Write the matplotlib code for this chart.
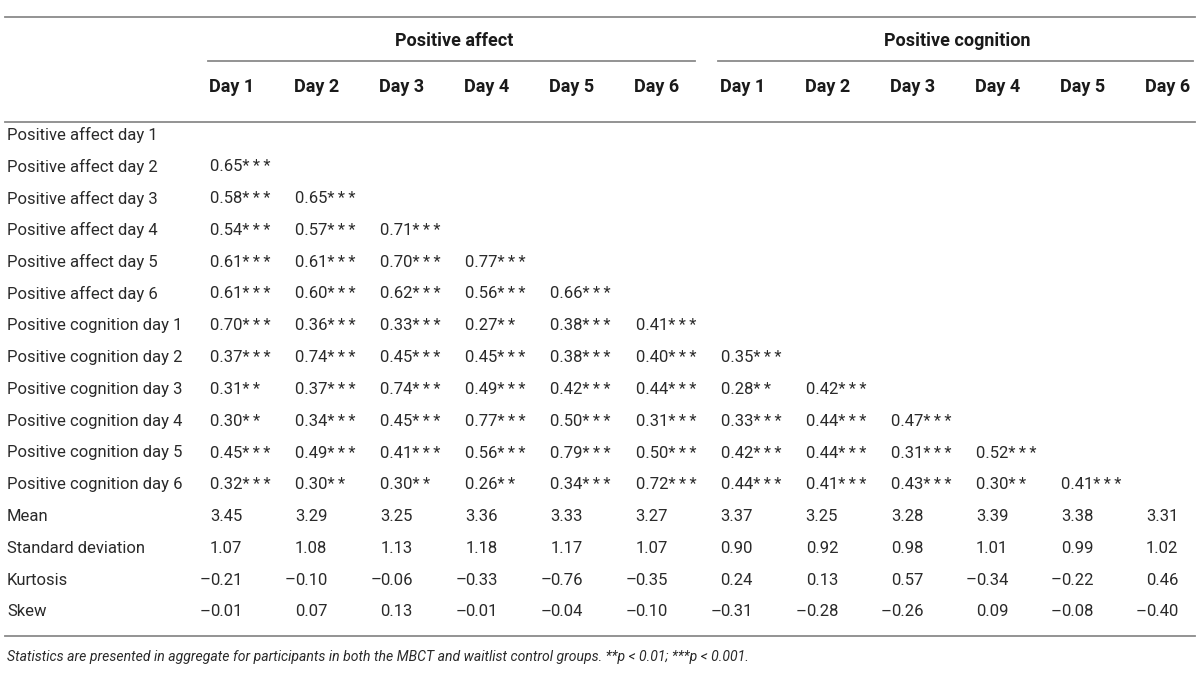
import matplotlib.pyplot as plt

# correlation table: positive affect / positive cognition across six days

row_labels = ["Positive affect day 1", "Positive affect day 2", "Positive affect day 3",
              "Positive affect day 4", "Positive affect day 5", "Positive affect day 6",
              "Positive cognition day 1", "Positive cognition day 2", "Positive cognition day 3",
              "Positive cognition day 4", "Positive cognition day 5", "Positive cognition day 6"]

groups = ["Positive affect", "Positive cognition"]
days = ["Day 1", "Day 2", "Day 3", "Day 4", "Day 5", "Day 6"]

corr = [
    [],
    [0.65],
    [0.58, 0.65],
    [0.54, 0.57, 0.71],
    [0.61, 0.61, 0.70, 0.77],
    [0.61, 0.60, 0.62, 0.56, 0.66],
    [0.70, 0.36, 0.33, 0.27, 0.38, 0.41],
    [0.37, 0.74, 0.45, 0.45, 0.38, 0.40, 0.35],
    [0.31, 0.37, 0.74, 0.49, 0.42, 0.44, 0.28, 0.42],
    [0.30, 0.34, 0.45, 0.77, 0.50, 0.31, 0.33, 0.44, 0.47],
    [0.45, 0.49, 0.41, 0.56, 0.79, 0.50, 0.42, 0.44, 0.31, 0.52],
    [0.32, 0.30, 0.30, 0.26, 0.34, 0.72, 0.44, 0.41, 0.43, 0.30, 0.41],
]

# number of asterisks for each correlation (2 -> p<0.01, 3 -> p<0.001)
stars = [
    [],
    [3],
    [3, 3],
    [3, 3, 3],
    [3, 3, 3, 3],
    [3, 3, 3, 3, 3],
    [3, 3, 3, 2, 3, 3],
    [3, 3, 3, 3, 3, 3, 3],
    [2, 3, 3, 3, 3, 3, 2, 3],
    [2, 3, 3, 3, 3, 3, 3, 3, 3],
    [3, 3, 3, 3, 3, 3, 3, 3, 3, 3],
    [3, 2, 2, 2, 3, 3, 3, 3, 3, 2, 3],
]

stat_labels = ["Mean", "Standard deviation", "Kurtosis", "Skew"]
means = [3.45, 3.29, 3.25, 3.36, 3.33, 3.27, 3.37, 3.25, 3.28, 3.39, 3.38, 3.31]
sds = [1.07, 1.08, 1.13, 1.18, 1.17, 1.07, 0.90, 0.92, 0.98, 1.01, 0.99, 1.02]
kurtosis = [-0.21, -0.10, -0.06, -0.33, -0.76, -0.35, 0.24, 0.13, 0.57, -0.34, -0.22, 0.46]
skew = [-0.01, 0.07, 0.13, -0.01, -0.04, -0.10, -0.31, -0.28, -0.26, 0.09, -0.08, -0.40]

footnote = ("Statistics are presented in aggregate for participants in both the MBCT and "
            "waitlist control groups. **p < 0.01; ***p < 0.001.")

plt.rcParams['font.family'] = ['Roboto', 'DejaVu Sans']
txt_col = '#2a2a2a'
rule_col = '#8a8a8a'
fs = 12.0
fs_head = 13.0
body_w = 'normal'

fig = plt.figure(figsize=(12, 6.73), dpi=100)
ax = fig.add_axes([0, 0, 1, 1])
ax.set_xlim(0, 1200)
ax.set_ylim(673, 0)
ax.axis('off')

col_x = [210 + 85.1 * i for i in range(12)]
label_x = 7
row_h = 31.8
y0 = 135

# rules
ax.plot([5, 1195], [17, 17], color=rule_col, lw=1.3)
ax.plot([5, 1195], [122, 122], color=rule_col, lw=1.3)
ax.plot([5, 1195], [636, 636], color=rule_col, lw=1.3)
ax.plot([208, 695], [61, 61], color=rule_col, lw=1.3)
ax.plot([718, 1193], [61, 61], color=rule_col, lw=1.3)

ax.text(454, 41, groups[0], ha='center', va='center', fontsize=fs_head, weight='bold', color='#1a1a1a')
ax.text(957, 41, groups[1], ha='center', va='center', fontsize=fs_head, weight='bold', color='#1a1a1a')
for i, x in enumerate(col_x):
    ax.text(x - 1, 87, days[i % 6], ha='left', va='center', fontsize=fs_head, weight='bold',
            color='#1a1a1a')

for r, lab in enumerate(row_labels):
    y = y0 + r * row_h
    ax.text(label_x, y, lab, ha='left', va='center', fontsize=fs, weight=body_w, color=txt_col)
    for c, v in enumerate(corr[r]):
        s = f"{v:.2f}" + "\u2009".join("*" * stars[r][c])
        ax.text(col_x[c], y, s, ha='left', va='center', fontsize=fs, weight=body_w, color=txt_col)

stats = [means, sds, kurtosis, skew]
for k, lab in enumerate(stat_labels):
    y = y0 + (len(row_labels) + k) * row_h
    ax.text(label_x, y, lab, ha='left', va='center', fontsize=fs, weight=body_w, color=txt_col)
    for c, v in enumerate(stats[k]):
        if v < 0:
            ax.text(col_x[c] + 1, y, "\u2013", ha='right', va='center', fontsize=fs,
                    weight=body_w, color=txt_col)
        ax.text(col_x[c], y, f"{abs(v):.2f}", ha='left', va='center', fontsize=fs,
                weight=body_w, color=txt_col)

ax.text(label_x, 657, footnote, ha='left', va='center', fontsize=10.1, style='italic',
        weight=body_w, color=txt_col)

fig.savefig('out.png', dpi=100)
